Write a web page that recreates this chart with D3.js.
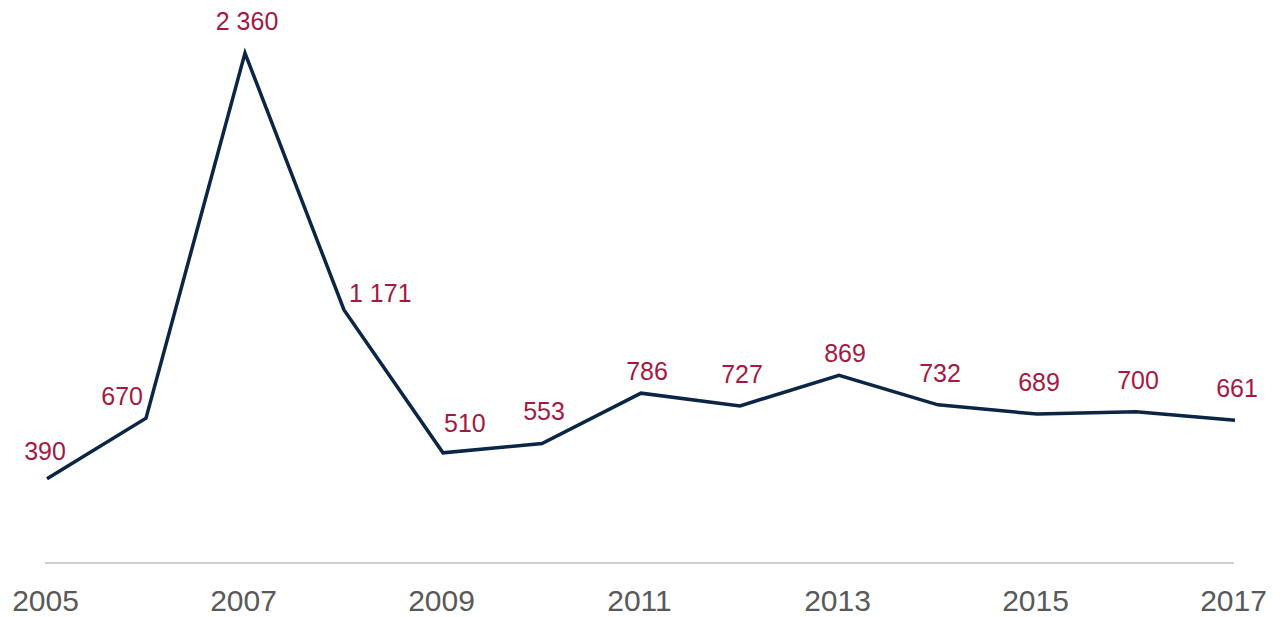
<!DOCTYPE html>
<html><head><meta charset="utf-8">
<script src="https://cdn.jsdelivr.net/npm/d3@7"></script>
<style>body{margin:0;background:#fff}svg{display:block}text{font-family:"Liberation Sans",Arial,sans-serif}</style>
</head><body><svg id="c" width="1286" height="617"></svg>
<script>
const years = [2005,2006,2007,2008,2009,2010,2011,2012,2013,2014,2015,2016,2017];
const values = [390,670,2360,1171,510,553,786,727,869,732,689,700,661];
const valueLabels = ["390","670","2 360","1 171","510","553","786","727","869","732","689","700","661"];
const tickYears = [2005,2007,2009,2011,2013,2015,2017];
const labelSide = ["first","left","above","right","aboveRight","above","peak","above","peak","above","above","above","above"];

const svg = d3.select("#c");
const x = d3.scalePoint().domain(years).range([47,1235]);
const y = d3.scaleLinear().domain([0,2360]).range([563,53]);

svg.append("line").attr("x1",45).attr("x2",1234).attr("y1",y(0)).attr("y2",y(0))
  .attr("stroke","#bfbfbf").attr("stroke-width",1.5);

const ax = svg.append("g").attr("transform",`translate(0,${y(0)})`)
  .call(d3.axisBottom(x).tickValues(tickYears).tickSize(0).tickPadding(0).tickFormat(d3.format("d")));
ax.select(".domain").remove();
ax.selectAll("text").attr("dy",null).attr("y",48).attr("fill","#595959").style("font-size","30px")
  .attr("dx",-2);

svg.append("path").datum(values.map((v,i)=>[years[i],v]))
  .attr("fill","none").attr("stroke","#0b2545").attr("stroke-width",3.5).attr("stroke-linejoin","miter")
  .attr("d",d3.line().x(d=>x(d[0])).y(d=>y(d[1])));

const off = {
  first:{a:"middle",dx:-2,dy:-19},
  above:{a:"middle",dx:2,dy:-23},
  peak:{a:"middle",dx:6,dy:-13},
  left:{a:"end",dx:-3,dy:-13},
  right:{a:"start",dx:5,dy:-8},
  aboveRight:{a:"start",dx:1,dy:-21}
};
svg.append("g").selectAll("text").data(values).join("text")
  .attr("x",(d,i)=>x(years[i])+off[labelSide[i]].dx)
  .attr("y",(d,i)=>y(d)+off[labelSide[i]].dy)
  .attr("text-anchor",(d,i)=>off[labelSide[i]].a)
  .attr("fill","#a6193f").style("font-size","25px")
  .text((d,i)=>valueLabels[i]);
</script></body></html>
